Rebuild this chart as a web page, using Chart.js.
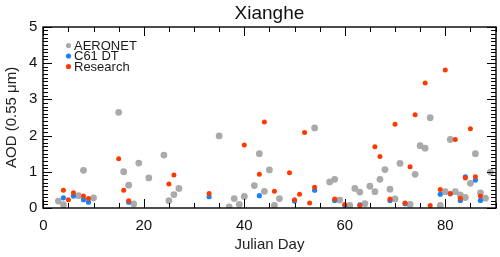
<!DOCTYPE html>
<html>
<head>
<meta charset="utf-8">
<script src="https://cdn.jsdelivr.net/npm/chart.js@4.4.0/dist/chart.umd.min.js"></script>
<style>
    html, body { margin: 0; padding: 0; background: #fff; }
    #wrap { width: 500px; height: 257px; }
</style>
</head>
<body>
<div id="wrap"><canvas id="aodChart"></canvas></div>
<script>
// values
const aeronetDays = [3, 4, 7, 8, 10, 15, 16, 17, 18, 19, 21, 24, 25, 26, 27, 35, 37, 38, 39, 40,
    42, 43, 44, 45, 46, 47, 54, 57, 58, 59, 61, 62, 63, 64, 65, 66, 67, 68, 69, 70,
    71, 73, 74, 75, 76, 77, 79, 80, 81, 82, 83, 84, 85, 86, 87, 88, 89];
const aeronetAod = [0.19, 0.09, 0.34, 1.04, 0.28, 2.64, 1.00, 0.63, 0.11, 1.24, 0.83, 1.46, 0.20, 0.37, 0.54, 1.99, 0.03, 0.26, 0.10, 0.32,
    0.62, 1.50, 0.46, 1.05, 0.07, 0.26, 2.21, 0.72, 0.79, 0.22, 0.07, 0.54, 0.44, 0.12, 0.60, 0.45, 0.79, 1.06, 0.52, 0.25,
    1.23, 0.10, 0.93, 1.72, 1.65, 2.49, 0.07, 0.45, 1.89, 0.45, 0.36, 0.29, 0.68, 1.50, 0.42, 0.27, 0.99];

const dtDays = [4, 6, 8, 9, 17, 33, 43, 50, 54, 58, 60, 63, 69, 72, 79, 81, 83, 84, 86, 87];
const dtAod = [0.28, 0.33, 0.23, 0.16, 0.16, 0.31, 0.34, 0.19, 0.49, 0.21, 0.07, 0.09, 0.21, 0.12, 0.38, 0.39, 0.21, 0.86, 0.77, 0.21];

const researchDays = [4, 5, 6, 8, 9, 15, 16, 17, 25, 26, 33, 40, 43, 44, 46, 49, 50, 51, 52, 53,
    54, 58, 60, 63, 66, 67, 69, 70, 72, 73, 74, 76, 77, 79, 80, 81, 82, 83, 84, 85, 86, 87];
const researchAod = [0.49, 0.23, 0.42, 0.33, 0.26, 1.36, 0.49, 0.20, 0.66, 0.91, 0.40, 1.74, 0.93, 2.37, 0.46, 0.97, 0.23, 0.38, 2.08, 0.14,
    0.57, 0.25, 0.10, 0.07, 1.69, 1.42, 0.25, 2.31, 0.14, 1.14, 2.57, 3.45, 0.07, 0.51, 3.81, 0.40, 1.89, 0.27, 0.83, 2.19, 0.86, 0.33];

const xTickLabels = [0, 20, 40, 60, 80];
const yTickLabels = [0, 1, 2, 3, 4, 5];
const X_MIN = 0, X_MAX = 90, Y_MIN = 0, Y_MAX = 5;
const xMinorStep = 5;
const yMinorStep = 0.1;

const FONT = "'Liberation Sans', Arial, sans-serif";

function toPoints(days, vals) {
    return days.map((d, i) => ({x: d, y: vals[i]}));
}

// IDL style box: inward ticks on all four sides + legend inside the plot
const boxPlugin = {
    id: 'boxPlugin',
    afterDatasetsDraw(chart) {
        const c = chart.ctx;
        const a = chart.chartArea;
        const xs = chart.scales.x, ys = chart.scales.y;
        const L = Math.round(a.left), R = Math.round(a.right);
        const T = Math.round(a.top), B = Math.round(a.bottom);
        c.save();
        c.strokeStyle = '#000';
        c.lineWidth = 1;
        c.beginPath();
        const nx = Math.round((X_MAX - X_MIN) / xMinorStep);
        for (let i = 0; i <= nx; i++) {
            const v = X_MIN + i * xMinorStep;
            const px = Math.round(xs.getPixelForValue(v)) + 0.5;
            const len = (v % 20 === 0) ? 9 : 5;
            c.moveTo(px, B); c.lineTo(px, B - len);
            c.moveTo(px, T); c.lineTo(px, T + len);
        }
        const ny = Math.round((Y_MAX - Y_MIN) / yMinorStep);
        for (let i = 0; i <= ny; i++) {
            const py = Math.round(ys.getPixelForValue(Y_MIN + i * yMinorStep)) + 0.5;
            const len = (i % 10 === 0) ? 9 : 5;
            c.moveTo(L, py); c.lineTo(L + len, py);
            c.moveTo(R, py); c.lineTo(R - len, py);
        }
        c.stroke();

        c.lineWidth = 1.4;
        c.strokeRect(L, T, R - L, B - T);

        // legend
        c.font = '13px ' + FONT;
        c.textBaseline = 'middle';
        c.textAlign = 'left';
        chart.data.datasets.forEach((ds, row) => {
            const y = T + 18.5 + row * 10.5;
            c.fillStyle = ds.backgroundColor;
            c.beginPath();
            c.arc(L + 25.5, y, 2.6, 0, Math.PI * 2);
            c.fill();
            c.fillStyle = '#1a1a1a';
            c.fillText(ds.label, L + 31, y + 0.5);
        });
        c.restore();
    }
};

const ctx = document.getElementById('aodChart');

new Chart(ctx, {
    type: 'scatter',
    data: {
        datasets: [{
            label: 'AERONET',
            data: toPoints(aeronetDays, aeronetAod),
            backgroundColor: '#aaaaaa',
            borderWidth: 0,
            pointRadius: 3.4,
            order: 3,
            clip: 0
        }, {
            label: 'C61 DT',
            data: toPoints(dtDays, dtAod),
            backgroundColor: '#1683f7',
            borderWidth: 0,
            pointRadius: 2.6,
            order: 2,
            clip: 0
        }, {
            label: 'Research',
            data: toPoints(researchDays, researchAod),
            backgroundColor: '#ff3a00',
            borderWidth: 0,
            pointRadius: 2.5,
            order: 1,
            clip: 0
        }]
    },
    options: {
        responsive: true,
        maintainAspectRatio: false,
        animation: false,
        layout: {
            padding: {left: 0, right: 4.5, top: 0, bottom: 0}
        },
        plugins: {
            legend: {display: false},
            tooltip: {enabled: false},
            title: {
                display: true,
                text: 'Xianghe',
                fullSize: false,
                color: '#111',
                font: {family: FONT, size: 19, weight: 'normal'},
                padding: {top: 2, bottom: 2}
            }
        },
        scales: {
            x: {
                type: 'linear',
                min: X_MIN,
                max: X_MAX,
                afterBuildTicks: (scale) => {
                    scale.ticks = xTickLabels.map(v => ({value: v}));
                },
                afterFit: (scale) => {
                    scale.height = 49;
                },
                grid: {display: false, drawTicks: false},
                border: {display: false},
                ticks: {
                    color: '#111',
                    padding: 9,
                    maxRotation: 0,
                    font: {family: FONT, size: 15}
                },
                title: {
                    display: true,
                    text: 'Julian Day',
                    color: '#222',
                    font: {family: FONT, size: 15},
                    padding: {top: 0, bottom: 3}
                }
            },
            y: {
                type: 'linear',
                min: Y_MIN,
                max: Y_MAX,
                afterBuildTicks: (scale) => {
                    scale.ticks = yTickLabels.map(v => ({value: v}));
                },
                afterFit: (scale) => {
                    scale.width = 43.3;
                },
                grid: {display: false, drawTicks: false},
                border: {display: false},
                ticks: {
                    color: '#111',
                    padding: 6,
                    font: {family: FONT, size: 15}
                },
                title: {
                    display: true,
                    text: 'AOD (0.55 μm)',
                    color: '#222',
                    font: {family: FONT, size: 15},
                    padding: {top: 3, bottom: 6}
                }
            }
        }
    },
    plugins: [boxPlugin]
});
</script>
</body>
</html>
